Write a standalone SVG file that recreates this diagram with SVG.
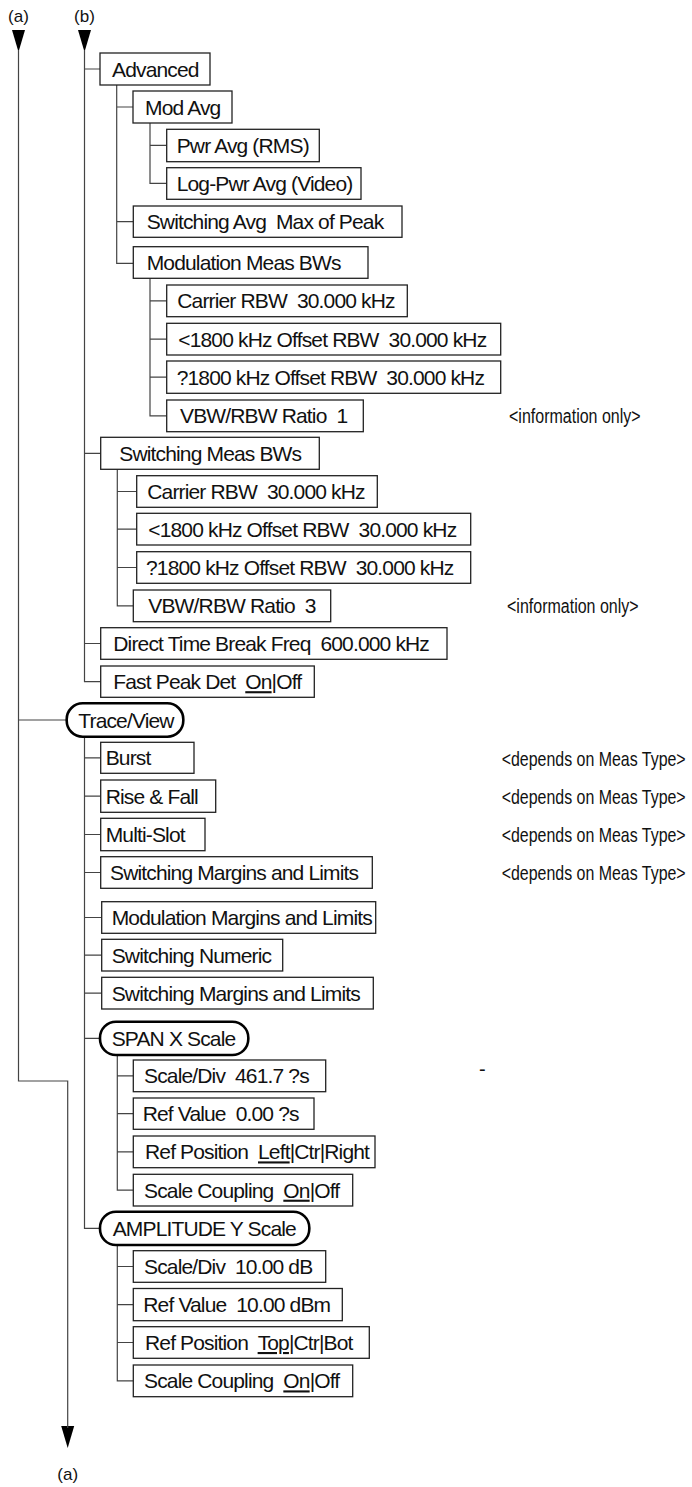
<svg xmlns="http://www.w3.org/2000/svg" width="692" height="1487" viewBox="0 0 692 1487">
<style>
.box{fill:#fff;stroke:#222;stroke-width:1.3}
.oval{fill:#fff;stroke:#000;stroke-width:2.6}
.t{font-family:"Liberation Sans",Arial,sans-serif;font-size:21px;letter-spacing:-0.85px;fill:#111;white-space:pre}
.lbl{font-family:"Liberation Sans",Arial,sans-serif;font-size:17px;fill:#111;text-anchor:middle}
.note{font-family:"Liberation Sans",Arial,sans-serif;font-size:20px;fill:#111}
.c{fill:none;stroke:#444;stroke-width:1.2}
.ah{fill:#000;stroke:none}
.u{text-decoration:underline}
</style>
<defs>
<polygon id="arrowDown" points="-6.5,0 6.5,0 0,22"/>
</defs>
<g id="labels">
<text class="lbl" x="18.5" y="22">(a)</text>
<text class="lbl" x="84.5" y="22">(b)</text>
<text class="lbl" x="67.7" y="1480">(a)</text>
</g>
<g id="connectors">
<use href="#arrowDown" class="ah" x="18.5" y="30"/>
<use href="#arrowDown" class="ah" x="84.5" y="30"/>
<use href="#arrowDown" class="ah" x="67.7" y="1426"/>
<path class="c" d="M18.5,50 V1081 H67.7 V1428"/>
<path class="c" d="M18.5,720 H66.7"/>
<path class="c" d="M84.5,50 V681.7 H100.7 M84.5,69 H100 M84.5,453.3 H100.7 M84.5,643.5 H100.7"/>
<path class="c" d="M116.7,85 V263.3 H133.3 M116.7,107 H133 M116.7,221.7 H133.3"/>
<path class="c" d="M150,123 V183.3 H166.7 M150,145.3 H166.7"/>
<path class="c" d="M150,278.3 V415.8 H166.7 M150,300.8 H166.7 M150,339.2 H166.7 M150,377.2 H166.7"/>
<path class="c" d="M117.3,469.3 V605.8 H133.3 M117.3,491.5 H136.7 M117.3,529.2 H136.7 M117.3,567.5 H136.7"/>
<path class="c" d="M84.5,736.7 V1228.3 H100 M84.5,757.8 H100.7 M84.5,796.2 H100.7 M84.5,834.5 H100.7 M84.5,872.5 H100.7 M84.5,917.5 H101.7 M84.5,955.2 H101.7 M84.5,993.2 H101.7 M84.5,1038.3 H100"/>
<path class="c" d="M117.3,1055 V1190.2 H133.3 M117.3,1075.8 H133.3 M117.3,1113.7 H133.3 M117.3,1151.8 H133.3"/>
<path class="c" d="M117.3,1245 V1380.8 H133.3 M117.3,1266.5 H133.3 M117.3,1304.6 H133.3 M117.3,1342.5 H133.3"/>
</g>
<g id="n-advanced"><rect class="box" x="100" y="53" width="110" height="32"/><text class="t" x="112" y="76.5">Advanced</text></g>
<g id="n-modavg"><rect class="box" x="133" y="91" width="99" height="32"/><text class="t" x="145" y="114.5">Mod Avg</text></g>
<g id="n-pwravg"><rect class="box" x="166.7" y="129.3" width="152.6" height="32.4"/><text class="t" x="176.7" y="153">Pwr Avg (RMS)</text></g>
<g id="n-logpwr"><rect class="box" x="166.7" y="167.7" width="194.3" height="31.6"/><text class="t" x="176.7" y="191">Log-Pwr Avg (Video)</text></g>
<g id="n-swavg"><rect class="box" x="133.3" y="206" width="268.7" height="31.3"/><text class="t" x="146.7" y="229.2">Switching Avg  Max of Peak</text></g>
<g id="n-modbw"><rect class="box" x="133.3" y="246.7" width="234.7" height="31.6"/><text class="t" x="146.7" y="270">Modulation Meas BWs</text></g>
<g id="n-modcarrier"><rect class="box" x="166.7" y="285" width="240.6" height="31.7"/><text class="t" x="177.3" y="308.4">Carrier RBW  30.000 kHz</text></g>
<g id="n-modlt"><rect class="box" x="166.7" y="323.3" width="334" height="31.7"/><text class="t" x="178.3" y="346.7">&lt;1800 kHz Offset RBW  30.000 kHz</text></g>
<g id="n-modge"><rect class="box" x="166.7" y="361" width="334" height="32.3"/><text class="t" x="176.7" y="384.7">?1800 kHz Offset RBW  30.000 kHz</text></g>
<g id="n-modvbw"><rect class="box" x="166.7" y="400" width="196.6" height="31.7"/><text class="t" x="180" y="423.4">VBW/RBW Ratio  1</text></g>
<g id="n-info1"><text class="note" transform="matrix(0.8 0 0 1 509 422.8)">&lt;information only&gt;</text></g>
<g id="n-swbw"><rect class="box" x="100.7" y="437.3" width="218.6" height="32"/><text class="t" x="119.3" y="460.8">Switching Meas BWs</text></g>
<g id="n-swcarrier"><rect class="box" x="136.7" y="475.7" width="240.6" height="31.6"/><text class="t" x="147.3" y="499">Carrier RBW  30.000 kHz</text></g>
<g id="n-swlt"><rect class="box" x="136.7" y="513.3" width="334" height="31.7"/><text class="t" x="148.3" y="536.7">&lt;1800 kHz Offset RBW  30.000 kHz</text></g>
<g id="n-swge"><rect class="box" x="136.7" y="551.7" width="334" height="31.6"/><text class="t" x="146" y="575">?1800 kHz Offset RBW  30.000 kHz</text></g>
<g id="n-swvbw"><rect class="box" x="133.3" y="590" width="197.4" height="31.7"/><text class="t" x="148.3" y="613.4">VBW/RBW Ratio  3</text></g>
<g id="n-info2"><text class="note" transform="matrix(0.8 0 0 1 507 612.8)">&lt;information only&gt;</text></g>
<g id="n-direct"><rect class="box" x="100.7" y="627.7" width="346.3" height="31.6"/><text class="t" x="113.3" y="651">Direct Time Break Freq  600.000 kHz</text></g>
<g id="n-fastpeak"><rect class="box" x="100.7" y="666" width="213.6" height="31.3"/><text class="t" x="113.3" y="689.2">Fast Peak Det  <tspan class="u">On</tspan>|Off</text></g>
<g id="n-traceview"><rect class="oval" x="66.7" y="703.3" width="116.6" height="33.4" rx="16" ry="16"/><text class="t" x="78.3" y="727.5">Trace/View</text></g>
<g id="n-burst"><rect class="box" x="100.7" y="742.3" width="93.3" height="31"/><text class="t" x="105.7" y="765.3">Burst</text></g>
<g id="n-risefall"><rect class="box" x="100.7" y="780" width="115" height="32.3"/><text class="t" x="105.7" y="803.7">Rise &amp; Fall</text></g>
<g id="n-multislot"><rect class="box" x="100.7" y="818.3" width="104.3" height="32.4"/><text class="t" x="105.7" y="842">Multi-Slot</text></g>
<g id="n-swmargins"><rect class="box" x="100.7" y="856.7" width="271.6" height="31.6"/><text class="t" x="110" y="880">Switching Margins and Limits</text></g>
<g id="n-note1"><text class="note" transform="matrix(0.797 0 0 1 501.7 765.5)">&lt;depends on Meas Type&gt;</text></g>
<g id="n-note2"><text class="note" transform="matrix(0.797 0 0 1 501.7 803.8)">&lt;depends on Meas Type&gt;</text></g>
<g id="n-note3"><text class="note" transform="matrix(0.797 0 0 1 501.7 842)">&lt;depends on Meas Type&gt;</text></g>
<g id="n-note4"><text class="note" transform="matrix(0.797 0 0 1 501.7 880)">&lt;depends on Meas Type&gt;</text></g>
<g id="n-modmargins"><rect class="box" x="101.7" y="901.7" width="274" height="31.6"/><text class="t" x="111.7" y="925">Modulation Margins and Limits</text></g>
<g id="n-swnumeric"><rect class="box" x="101.7" y="939.3" width="181" height="31.7"/><text class="t" x="111.7" y="962.7">Switching Numeric</text></g>
<g id="n-swmargins2"><rect class="box" x="101.7" y="977.3" width="271.6" height="31.7"/><text class="t" x="111.7" y="1000.7">Switching Margins and Limits</text></g>
<g id="n-spanx"><rect class="oval" x="100" y="1021.7" width="148.3" height="33.3" rx="16" ry="16"/><text class="t" x="111.7" y="1045.9">SPAN X Scale</text></g>
<g id="n-dash"><text class="note" x="479" y="1076">-</text></g>
<g id="n-xscalediv"><rect class="box" x="133.3" y="1060" width="192.4" height="31.7"/><text class="t" x="144" y="1083.4">Scale/Div  461.7 ?s</text></g>
<g id="n-xrefval"><rect class="box" x="133.3" y="1098" width="180.7" height="31.3"/><text class="t" x="142.7" y="1121.2">Ref Value  0.00 ?s</text></g>
<g id="n-xrefpos"><rect class="box" x="133.3" y="1136" width="241.7" height="31.7"/><text class="t" x="145" y="1159.4">Ref Position  <tspan class="u">Left</tspan>|Ctr|Right</text></g>
<g id="n-xcoupling"><rect class="box" x="133.3" y="1174.3" width="219.4" height="31.7"/><text class="t" x="144" y="1197.7">Scale Coupling  <tspan class="u">On</tspan>|Off</text></g>
<g id="n-ampy"><rect class="oval" x="100" y="1211.7" width="209.3" height="33.3" rx="16" ry="16"/><text class="t" x="112.7" y="1235.9">AMPLITUDE Y Scale</text></g>
<g id="n-yscalediv"><rect class="box" x="133.3" y="1250.7" width="192.4" height="31.6"/><text class="t" x="144" y="1274">Scale/Div  10.00 dB</text></g>
<g id="n-yrefval"><rect class="box" x="133.3" y="1288.5" width="209" height="32.2"/><text class="t" x="143.3" y="1312.1">Ref Value  10.00 dBm</text></g>
<g id="n-yrefpos"><rect class="box" x="133.3" y="1326.7" width="236" height="31.6"/><text class="t" x="145" y="1350">Ref Position  <tspan class="u">Top</tspan>|Ctr|Bot</text></g>
<g id="n-ycoupling"><rect class="box" x="133.3" y="1365" width="219.4" height="31.7"/><text class="t" x="144" y="1388.4">Scale Coupling  <tspan class="u">On</tspan>|Off</text></g>
</svg>
